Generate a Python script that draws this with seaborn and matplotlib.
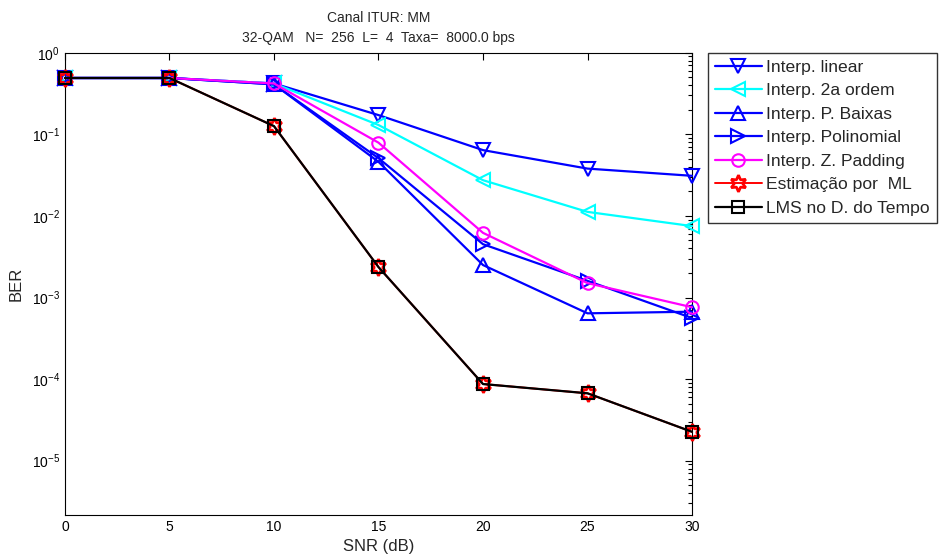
import numpy as np
import pandas as pd
import matplotlib
matplotlib.use("Agg")
import matplotlib.pyplot as plt
import seaborn as sns

# SNR sweep (dB) and BER per channel-estimation method
snr = [0, 5, 10, 15, 20, 25, 30]
ber_linear = [0.49, 0.49, 0.42, 0.172, 0.064, 0.038, 0.031]
ber_2a_ordem = [0.49, 0.49, 0.42, 0.13, 0.0274, 0.0112, 0.0075]
ber_p_baixas = [0.49, 0.49, 0.41, 0.046, 0.0025, 0.00064, 0.00067]
ber_polinomial = [0.49, 0.49, 0.41, 0.051, 0.0045, 0.0016, 0.00056]
ber_z_padding = [0.49, 0.49, 0.42, 0.079, 0.0062, 0.0015, 0.00076]
ber_ml = [0.49, 0.49, 0.126, 0.00236, 0.000087, 0.000067, 0.0000226]
ber_lms = [0.49, 0.49, 0.126, 0.00236, 0.000087, 0.000067, 0.0000226]

labels = ["Interp. linear", "Interp. 2a ordem", "Interp. P. Baixas",
          "Interp. Polinomial", "Interp. Z. Padding", "Estimação por  ML",
          "LMS no D. do Tempo"]

title_lines = ["Canal ITUR: MM",
               "32-QAM   N=  256  L=  4  Taxa=  8000.0 bps"]

sns.set_style("white")
plt.rcParams["font.family"] = ["Liberation Sans", "DejaVu Sans"]
plt.rcParams["mathtext.fontset"] = "custom"
plt.rcParams["mathtext.rm"] = "Liberation Sans"

series = [
    (ber_linear, "#0000ff", "v", 10, 1.6, 1.5),
    (ber_2a_ordem, "#00ffff", "<", 10, 1.6, 1.5),
    (ber_p_baixas, "#0000ff", "^", 10, 1.6, 1.5),
    (ber_polinomial, "#0000ff", ">", 10, 1.6, 1.5),
    (ber_z_padding, "#ff00ff", "o", 9, 1.6, 1.5),
    (ber_ml, "#ff0000", (6, 1, 0), 12, 1.4, 2.0),
    (ber_lms, "#000000", "s", 9, 1.6, 1.5),
]

fig = plt.figure(figsize=(9.4, 5.59), dpi=100)
ax = fig.add_axes([0.0691, 0.0787, 0.6671, 0.8270])

for (vals, color, marker, ms, lw, mew), label in zip(series, labels):
    df = pd.DataFrame({"SNR": snr, "BER": vals})
    sns.lineplot(data=df, x="SNR", y="BER", ax=ax, color=color, lw=lw,
                 marker=marker, markersize=ms, markerfacecolor="none",
                 markeredgecolor=color, markeredgewidth=mew, label=label,
                 clip_on=False, zorder=3)

ax.set_yscale("log")
ax.set_xlim(0, 30)
ax.set_ylim(2.16e-6, 1)
ax.set_xticks([0, 5, 10, 15, 20, 25, 30])
ax.set_yticks([1e0, 1e-1, 1e-2, 1e-3, 1e-4, 1e-5])
ax.yaxis.set_minor_locator(matplotlib.ticker.LogLocator(base=10, subs=np.arange(2, 10), numticks=20))
ax.yaxis.set_minor_formatter(matplotlib.ticker.NullFormatter())
ax.tick_params(which="both", direction="in", top=True, right=True,
               colors="black", labelsize=10)
ax.tick_params(which="major", length=5, width=0.8)
ax.tick_params(which="minor", length=3, width=0.8)
for sp in ax.spines.values():
    sp.set_color("black")
    sp.set_linewidth(0.8)

ax.set_xlabel("SNR (dB)", fontsize=12, labelpad=4)
ax.set_ylabel("BER", fontsize=12, labelpad=6)
ax.set_title("\n".join(title_lines), fontsize=10, pad=8, linespacing=1.5)

ax.get_legend().remove()
handles, lbls = ax.get_legend_handles_labels()
leg = fig.legend(handles, lbls, loc="upper left",
                 bbox_to_anchor=(0.753, 0.906), bbox_transform=fig.transFigure,
                 fontsize=12.6, frameon=True, fancybox=False, edgecolor="black",
                 handlelength=2.7, handletextpad=0.25, labelspacing=0.47,
                 borderpad=0.4, borderaxespad=0)
leg.get_frame().set_linewidth(1.0)

fig.savefig("out.png", dpi=100, facecolor="white")
